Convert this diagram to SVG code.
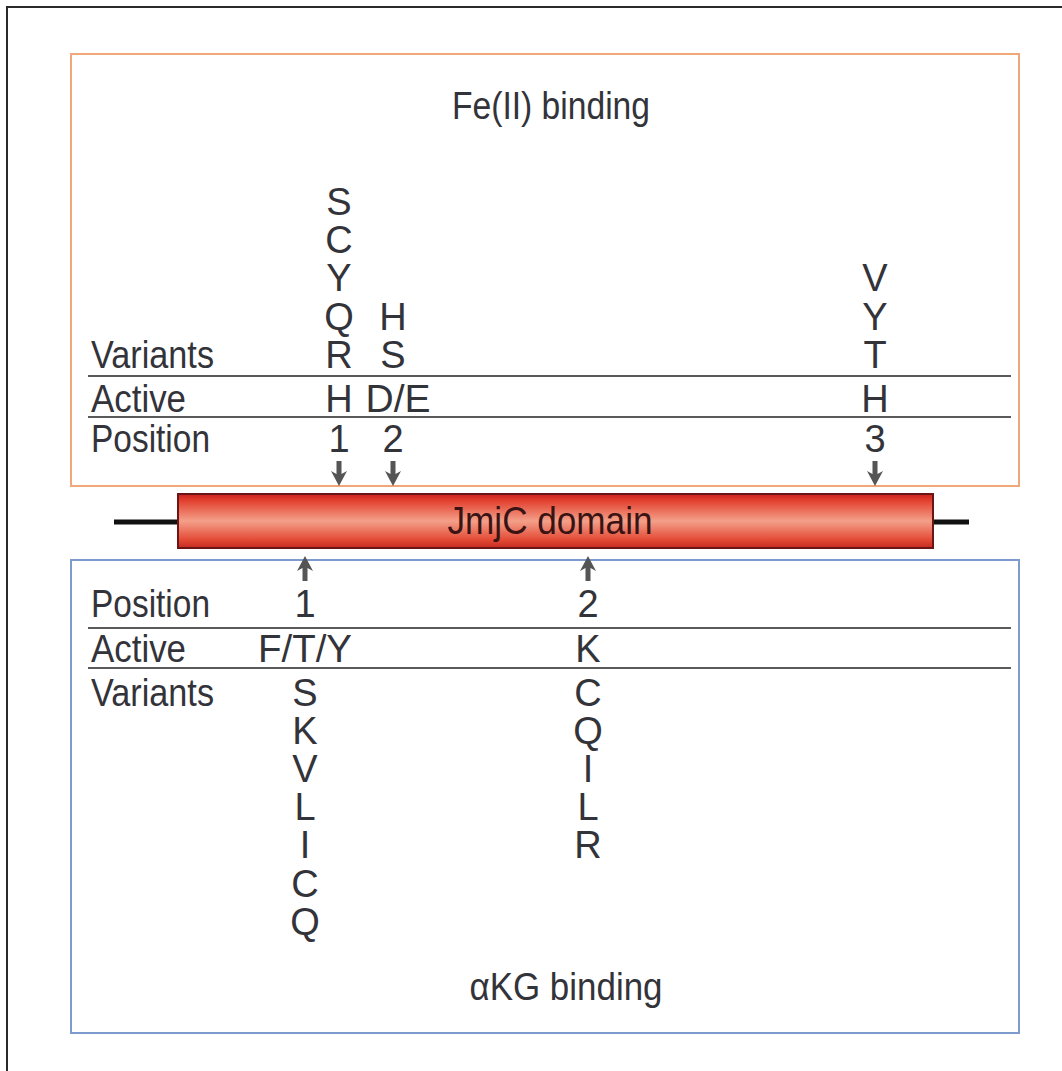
<svg xmlns="http://www.w3.org/2000/svg" xmlns:xlink="http://www.w3.org/1999/xlink" width="1062" height="1071" viewBox="0 0 1062 1071">
  <defs>
    <style>
      text { font-family: "Liberation Sans", Arial, sans-serif; font-size: 38px; fill: #33333a; }
      .c { text-anchor: middle; }
      .rule { stroke: #5a5a5a; stroke-width: 2; fill: none; }
      .arrow { fill: #555555; }
      .frame { stroke: #2a2a2a; stroke-width: 2; fill: none; }
    </style>
    <linearGradient id="barFill" x1="0" y1="0" x2="0" y2="1">
      <stop offset="0" stop-color="#c8231c"/>
      <stop offset="0.12" stop-color="#e2402e"/>
      <stop offset="0.5" stop-color="#f4a08a"/>
      <stop offset="0.85" stop-color="#e34a35"/>
      <stop offset="1" stop-color="#c52a20"/>
    </linearGradient>
    <!-- downward arrow, tip at the origin -->
    <path id="arrowDown" d="M-2.5,-25 H2.5 V-12 L8,-15 L0,0 L-8,-15 L-2.5,-12 Z"/>
  </defs>

  <rect x="0" y="0" width="1062" height="1071" fill="#ffffff"/>
  <!-- page frame (top and left edges) -->
  <path class="frame" d="M7,1071 V7 H1062"/>

  <!-- Fe(II) binding panel -->
  <g id="fe-binding">
    <rect x="71" y="54" width="948" height="432" fill="none" stroke="#f0a77a" stroke-width="2"/>
    <text class="c" x="551" y="119" textLength="198" lengthAdjust="spacingAndGlyphs">Fe(II) binding</text>
    <line class="rule" x1="88" y1="376" x2="1011" y2="376"/>
    <line class="rule" x1="88" y1="417" x2="1011" y2="417"/>
    <text x="91" y="368" textLength="123" lengthAdjust="spacingAndGlyphs">Variants</text>
    <text x="91" y="412" textLength="95" lengthAdjust="spacingAndGlyphs">Active</text>
    <text x="91" y="452" textLength="119" lengthAdjust="spacingAndGlyphs">Position</text>
    <!-- position 1 -->
    <text class="c" x="339" y="215">S</text>
    <text class="c" x="339" y="253">C</text>
    <text class="c" x="339" y="291">Y</text>
    <text class="c" x="339" y="330">Q</text>
    <text class="c" x="339" y="368">R</text>
    <text class="c" x="339" y="412">H</text>
    <text class="c" x="339" y="452">1</text>
    <!-- position 2 -->
    <text class="c" x="393" y="330">H</text>
    <text class="c" x="393" y="368">S</text>
    <text class="c" x="398" y="412" textLength="65" lengthAdjust="spacingAndGlyphs">D/E</text>
    <text class="c" x="393" y="452">2</text>
    <!-- position 3 -->
    <text class="c" x="875" y="291">V</text>
    <text class="c" x="875" y="330">Y</text>
    <text class="c" x="875" y="368">T</text>
    <text class="c" x="875" y="412">H</text>
    <text class="c" x="875" y="452">3</text>
  </g>

  <!-- JmjC domain -->
  <g id="jmjc-domain">
    <line x1="114" y1="522" x2="969" y2="522" stroke="#111111" stroke-width="5"/>
    <rect x="178" y="494" width="755" height="54" fill="url(#barFill)" stroke="#6a1616" stroke-width="2"/>
    <text class="c" x="550" y="534" style="fill:#3a1414" textLength="205" lengthAdjust="spacingAndGlyphs">JmjC domain</text>
  </g>

  <!-- alpha-ketoglutarate binding panel -->
  <g id="akg-binding">
    <rect x="71" y="560" width="948" height="473" fill="none" stroke="#7d9bcf" stroke-width="2"/>
    <line class="rule" x1="88" y1="628" x2="1011" y2="628"/>
    <line class="rule" x1="88" y1="668" x2="1011" y2="668"/>
    <text x="91" y="617" textLength="119" lengthAdjust="spacingAndGlyphs">Position</text>
    <text x="91" y="662" textLength="95" lengthAdjust="spacingAndGlyphs">Active</text>
    <text x="91" y="706" textLength="123" lengthAdjust="spacingAndGlyphs">Variants</text>
    <!-- position 1 -->
    <text class="c" x="305" y="617">1</text>
    <text class="c" x="305" y="662" textLength="94" lengthAdjust="spacingAndGlyphs">F/T/Y</text>
    <text class="c" x="305" y="706">S</text>
    <text class="c" x="305" y="744">K</text>
    <text class="c" x="305" y="782">V</text>
    <text class="c" x="305" y="820">L</text>
    <text class="c" x="305" y="858">I</text>
    <text class="c" x="305" y="897">C</text>
    <text class="c" x="305" y="935">Q</text>
    <!-- position 2 -->
    <text class="c" x="588" y="617">2</text>
    <text class="c" x="588" y="662">K</text>
    <text class="c" x="588" y="706">C</text>
    <text class="c" x="588" y="744">Q</text>
    <text class="c" x="588" y="782">I</text>
    <text class="c" x="588" y="820">L</text>
    <text class="c" x="588" y="858">R</text>
    <text class="c" x="566" y="1000" textLength="193" lengthAdjust="spacingAndGlyphs">αKG binding</text>
  </g>

  <!-- arrows pointing at the domain -->
  <g id="connectors" class="arrow">
    <use xlink:href="#arrowDown" transform="translate(339,486)"/>
    <use xlink:href="#arrowDown" transform="translate(393,486)"/>
    <use xlink:href="#arrowDown" transform="translate(875,486)"/>
    <use xlink:href="#arrowDown" transform="translate(305,556) rotate(180)"/>
    <use xlink:href="#arrowDown" transform="translate(588,556) rotate(180)"/>
  </g>
</svg>
